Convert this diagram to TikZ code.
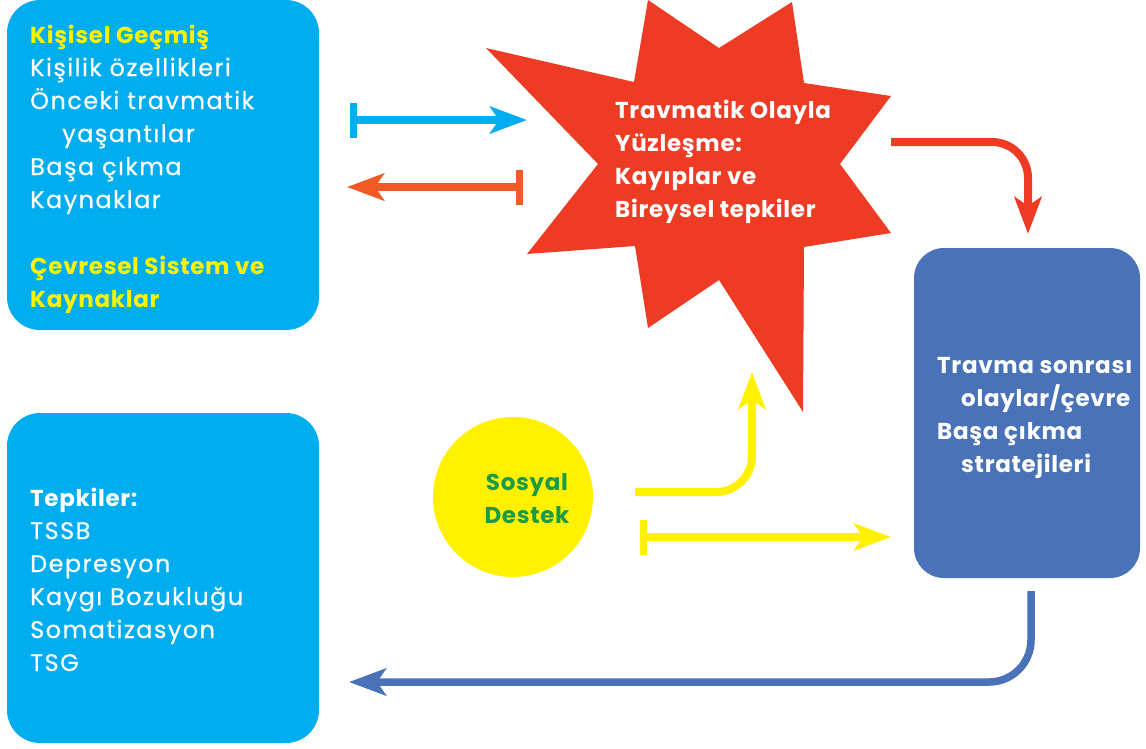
\documentclass[tikz,border=0pt]{standalone}
\usepackage{fontspec}
\setmainfont{Poppins}[UprightFeatures={FakeBold=0.4, LetterSpace=6}, BoldFeatures={LetterSpace=3}]
\usetikzlibrary{arrows.meta}
\definecolor{cboxc}{HTML}{00AEEF}
\definecolor{ctitle}{HTML}{FFF200}
\definecolor{cblue}{HTML}{4A72B8}
\definecolor{cred}{HTML}{EE3B24}
\definecolor{corange}{HTML}{F15A24}
\definecolor{cyel}{HTML}{FFF100}
\definecolor{cgreen}{HTML}{1A9B48}
\tikzset{
  box/.style={fill=#1, draw=none, rounded corners=33pt, inner sep=0pt},
  txt/.style={anchor=base west, inner sep=0pt, align=left, text=white,
    font={\fontsize{24}{33}\selectfont}},
  btxt/.style={txt, font={\fontsize{23}{33}\selectfont\bfseries}},
  hd/.style={},
  conn/.style={line width=8pt, rounded corners=36pt},
}
\newcommand{\hdtxt}[1]{{\fontsize{23}{33}\selectfont\bfseries\color{ctitle}#1}}
\begin{document}
\begin{tikzpicture}[x=1pt, y=-1pt]
\useasboundingbox (0,0) rectangle (1146,748);
% boxes
\node[box=cboxc, minimum width=312pt, minimum height=330pt] (hist) at (163,165) {};
\node[box=cboxc, minimum width=312pt, minimum height=330pt] (resp) at (163,578) {};
\node[box=cblue, minimum width=226pt, minimum height=330pt, rounded corners=30pt] (post) at (1027,413) {};
\node[circle, fill=cyel, minimum size=160pt, inner sep=0pt] (soc) at (513,497) {};
% star
\fill[cred] (648,0) -- (719,48) -- (792,2) -- (804,83) -- (891,96) -- (840,164)
  -- (891,233) -- (804,247) -- (803,412) -- (719,280) -- (648,328) -- (635,246)
  -- (527,254) -- (598,164) -- (486,48) -- (634,82) -- cycle;
% texts (anchored at the baseline of the last line)
\node[txt] (histtxt) at (30,307) {\hdtxt{Kişisel Geçmiş}\\
Kişilik özellikleri\\
Önceki travmatik\\
\hspace*{32pt}yaşantılar\\
Başa çıkma\\
Kaynaklar\\[33pt]
\hdtxt{Çevresel Sistem ve}\\
\hdtxt{Kaynaklar}};
\node[txt] (resptxt) at (30,671) {{\fontsize{23}{33}\selectfont\bfseries Tepkiler:}\\
TSSB\\
Depresyon\\
Kaygı Bozukluğu\\
Somatizasyon\\
TSG};
\node[btxt] (star) at (615,217) {Travmatik Olayla\\
Yüzleşme:\\
Kayıplar ve\\
Bireysel tepkiler};
\node[btxt] (posttxt) at (937,472) {Travma sonrası\\
\hspace*{24pt}olaylar/çevre\\
Başa çıkma\\
\hspace*{24pt}stratejileri};
\node[btxt, anchor=base, align=center, text=cgreen] (soctxt) at (527,523) {Sosyal\\Destek};
% connector end points
\coordinate (a1s) at (350,120); \coordinate (a1e) at (527,120);
\coordinate (a2s) at (523,187); \coordinate (a2e) at (347,187);
\coordinate (a3s) at (891,142); \coordinate (a3e) at (1028,234);
\coordinate (a4s) at (635,492); \coordinate (a4e) at (752,372);
\coordinate (a5s) at (640,537); \coordinate (a5e) at (891,537);
\coordinate (a6s) at (1031,591); \coordinate (a6e) at (349,682);
% connectors
\draw[conn, cboxc, {Bar[width=35pt, line width=7pt]}-{Stealth[length=37pt, width=27pt, inset=9pt]}] (a1s) -- (a1e);
\draw[conn, corange, {Bar[width=35pt, line width=7pt]}-{Stealth[length=37pt, width=27pt, inset=9pt]}] (a2s) -- (a2e);
\draw[conn, cred, -{Stealth[length=37pt, width=27pt, inset=9pt]}] (a3s) -- (a3s -| a3e) -- (a3e);
\draw[conn, cyel, -{Stealth[length=37pt, width=27pt, inset=9pt]}] (a4s) -- (a4s -| a4e) -- (a4e);
\draw[conn, cyel, {Bar[width=35pt, line width=7pt]}-{Stealth[length=37pt, width=27pt, inset=9pt]}] (a5s) -- (a5e);
\draw[conn, cblue, line width=7.5pt, rounded corners=42pt, -{Stealth[length=37pt, width=27pt, inset=9pt]}] (a6s) -- (a6s |- a6e) -- (a6e);
\end{tikzpicture}
\end{document}
